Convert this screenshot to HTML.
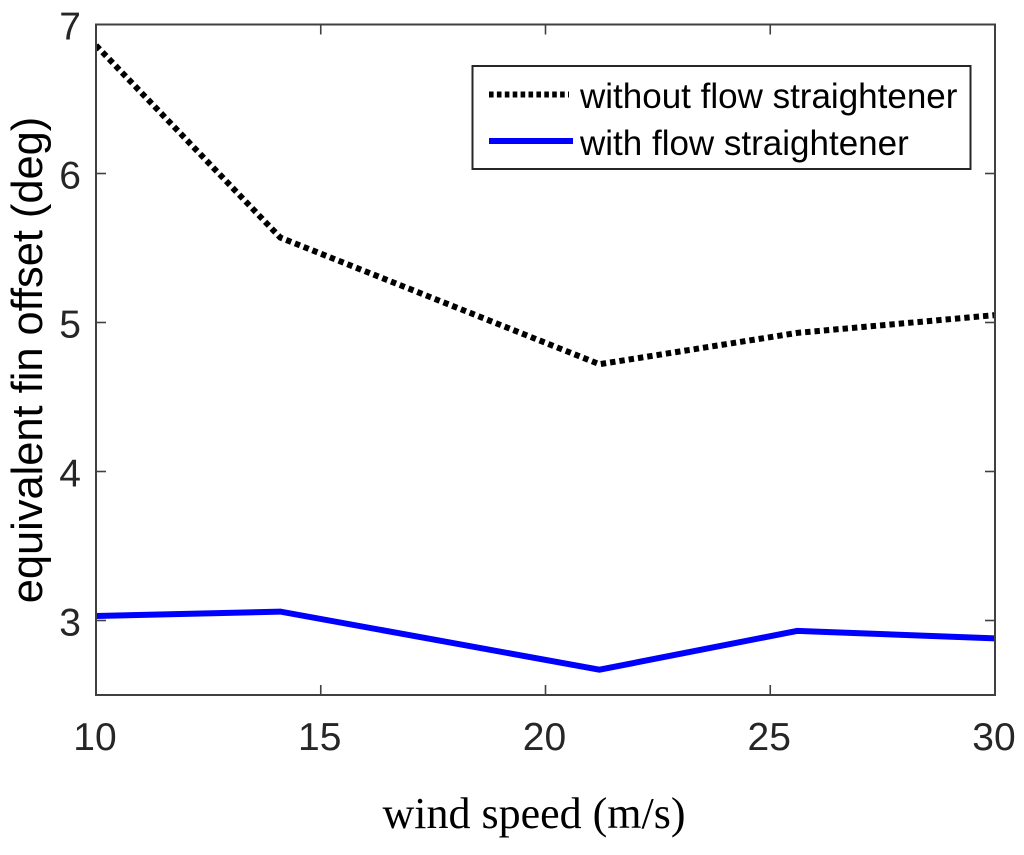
<!DOCTYPE html>
<html>
<head>
<meta charset="utf-8">
<title>Equivalent fin offset vs wind speed</title>
<style>
html,body{margin:0;padding:0;background:#fff;width:1024px;height:855px;overflow:hidden}
svg{display:block}
text{font-family:"Liberation Sans",sans-serif}
</style>
</head>
<body>
<svg id="chart" xmlns="http://www.w3.org/2000/svg" width="1024" height="855" viewBox="0 0 1024 855"></svg>
<script>
const windSpeed = [10, 14.1, 21.2, 25.6, 30];
const withoutStraightener = [6.86, 5.57, 4.72, 4.93, 5.05];
const withStraightener = [3.03, 3.06, 2.67, 2.93, 2.88];
const xTicks = [10, 15, 20, 25, 30];
const yTicks = [3, 4, 5, 6, 7];

const NS = 'http://www.w3.org/2000/svg';
const svg = document.getElementById('chart');
const plot = {left: 96, right: 995, top: 24.5, bottom: 695};
const xDomain = [10, 30];
const yDomain = [2.5, 7];
function xScale(v) { return plot.left + (v - xDomain[0]) / (xDomain[1] - xDomain[0]) * (plot.right - plot.left); }
function yScale(v) { return plot.bottom - (v - yDomain[0]) / (yDomain[1] - yDomain[0]) * (plot.bottom - plot.top); }
function make(tag, attrs, text) {
  const el = document.createElementNS(NS, tag);
  for (const k in attrs) el.setAttribute(k, attrs[k]);
  if (text !== undefined) el.textContent = text;
  svg.appendChild(el);
  return el;
}

const clip = document.createElementNS(NS, 'clipPath');
clip.setAttribute('id', 'plot-clip');
const clipRect = document.createElementNS(NS, 'rect');
clipRect.setAttribute('x', plot.left);
clipRect.setAttribute('y', plot.top);
clipRect.setAttribute('width', plot.right - plot.left);
clipRect.setAttribute('height', plot.bottom - plot.top);
clip.appendChild(clipRect);
svg.appendChild(clip);

function pathFor(values) {
  return values.map((v, i) => (i ? 'L' : 'M') + xScale(windSpeed[i]).toFixed(1) + ' ' + yScale(v).toFixed(1)).join(' ');
}
const lineBlack = make('path', {d: pathFor(withoutStraightener), fill: 'none', stroke: '#000', 'stroke-width': 6, 'stroke-dasharray': '5.4 4', 'clip-path': 'url(#plot-clip)'});


const lineBlue = make('path', {d: pathFor(withStraightener), fill: 'none', stroke: '#0000ff', 'stroke-width': 6, 'clip-path': 'url(#plot-clip)'});



const frame = make('rect', {x: plot.left, y: plot.top, width: plot.right - plot.left, height: plot.bottom - plot.top, fill: 'none', stroke: '#404040', 'stroke-width': 2});



xTicks.forEach(function (t) {
  const x = xScale(t);
  const tickBottom = make('line', {x1: x, x2: x, y1: plot.bottom, y2: plot.bottom - 10, stroke: '#404040', 'stroke-width': 1.6});
  
  
  const tickTop = make('line', {x1: x, x2: x, y1: plot.top, y2: plot.top + 10, stroke: '#404040', 'stroke-width': 1.6});
  
  
  const label = make('text', {x: x - 1, y: 750, 'text-anchor': 'middle', 'font-size': 39, fill: '#262626'}, String(t));
  
  
});

yTicks.forEach(function (t) {
  const y = yScale(t);
  const tickLeft = make('line', {x1: plot.left, x2: plot.left + 10, y1: y, y2: y, stroke: '#404040', 'stroke-width': 1.6});
  
  
  const tickRight = make('line', {x1: plot.right, x2: plot.right - 10, y1: y, y2: y, stroke: '#404040', 'stroke-width': 1.6});
  
  
  const label = make('text', {x: 81, y: y + 15, 'text-anchor': 'end', 'font-size': 39, fill: '#262626'}, String(t));
  
  
});

const xTitle = make('text', {x: 534, y: 828, 'text-anchor': 'middle', 'font-size': 44, fill: '#000', style: 'font-family:"Liberation Serif",serif'}, 'wind speed (m/s)');


const yTitle = make('text', {x: 0, y: 0, transform: 'translate(42 360) rotate(-90)', 'text-anchor': 'middle', 'font-size': 43.4, fill: '#000'}, 'equivalent fin offset (deg)');



const legendBox = make('rect', {x: 472.5, y: 66, width: 498, height: 103, fill: '#fff', stroke: '#262626', 'stroke-width': 2});


const legendBlack = make('line', {x1: 489, x2: 569, y1: 94.5, y2: 94.5, stroke: '#000', 'stroke-width': 6, 'stroke-dasharray': '4.6 3.3'});


const legendBlue = make('line', {x1: 489, x2: 573, y1: 141, y2: 141, stroke: '#0000ff', 'stroke-width': 6});


const legendText1 = make('text', {x: 580, y: 108, 'font-size': 35, fill: '#000'}, 'without flow straightener');


const legendText2 = make('text', {x: 580, y: 155, 'font-size': 35, fill: '#000'}, 'with flow straightener');


</script>
</body>
</html>
